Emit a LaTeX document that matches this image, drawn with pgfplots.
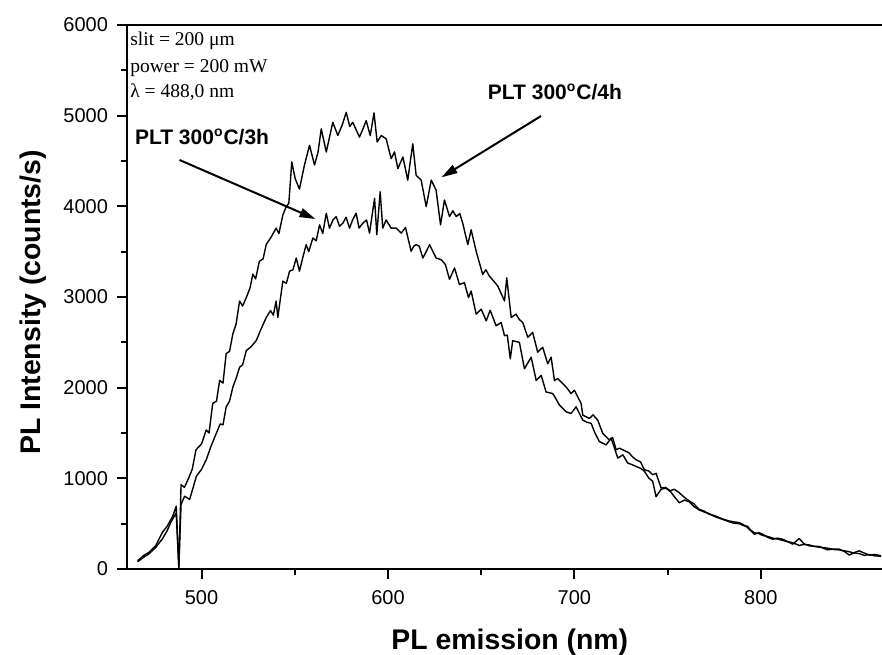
\documentclass[border=0pt]{standalone}
\usepackage{fontspec}
\setmainfont{Liberation Sans}
\newfontfamily\timesfont{Liberation Serif}
\usepackage{pgfplots}
\pgfplotsset{compat=1.18}
\usetikzlibrary{arrows.meta,calc}
\newcommand{\dg}{\textsuperscript{\fontsize{7}{7}\selectfont o}}

\begin{document}
\begin{tikzpicture}
\begin{axis}[
  scale only axis, width=377.5pt, height=272pt,
  xmin=460, xmax=865, ymin=0, ymax=6000,
  axis x line*=box, axis y line*=left,
  xtick pos=left, ytick pos=left,
  xtick={500,600,700,800}, minor x tick num=1,
  ytick={0,1000,2000,3000,4000,5000,6000}, minor y tick num=1,
  tick align=outside,
  major tick length=5pt, minor tick length=3pt,
  every tick/.style={black, line width=1pt},
  axis line style={black, line width=1pt},
  /pgf/number format/assume math mode=true,
  /pgf/number format/1000 sep={},
  ticklabel style={font=\fontsize{10}{12}\selectfont},
  xticklabel style={yshift=-2pt},
  yticklabel style={xshift=-1pt},
  xlabel={PL emission (nm)},
  ylabel={PL Intensity (counts/s)},
  xlabel style={font=\fontsize{14.2}{17}\selectfont\bfseries, at={(axis description cs:0.507,0)}, anchor=base, yshift=-40.5pt},
  ylabel style={font=\fontsize{14.2}{17}\selectfont\bfseries, at={(axis description cs:-0.1245,0.49)}, anchor=center},
]
\coordinate (SW) at (rel axis cs:0,0);
\coordinate (NE) at (rel axis cs:1,1);

% PLT 300C/4h
\addplot[black, line width=0.7pt, line join=round, mark=none] coordinates {
(465.7,91) (469,150) (472,186) (475.5,260) (479,405) (481.5,470) (484.5,580) (486.4,693) (487.8,20) (489,930)
(490.8,900) (492.7,985) (495,1100) (497,1314) (500,1380) (502.5,1533) (504,1500) (506,1828) (508,1850) (509.7,2080)
(511.5,2050) (513.2,2376) (515,2400) (516.8,2595) (518.5,2700) (520.4,2956) (522,2900) (524,2993) (526,3100) (527.5,3252)
(529,3200) (531,3394) (533,3420) (534.7,3580) (537,3650) (540,3759) (541.5,3700) (543.6,3905) (545.4,3996) (546.8,4033)
(548.4,4490) (550.2,4307) (552.5,4190) (555.2,4456) (557.9,4672) (560.6,4456) (562.5,4600) (564.2,4854) (566.9,4599) (568.5,4750)
(570.4,4927) (573.1,4781) (575.5,4900) (577.6,5037) (579.5,4880) (581.1,4927) (584.7,4763) (586.5,4850) (588.3,4945) (590.5,4780)
(592.5,5030) (594.2,4710) (596.4,4781) (599,4745) (601.7,4526) (603.5,4600) (605.3,4416) (608,4544) (610.6,4289) (613.3,4690)
(615.1,4343) (617.8,4289) (620.5,3996) (623.2,4289) (625.8,4179) (628.2,3796) (630.3,4070) (633,3887) (634.8,3950) (636.6,3887)
(638.5,3920) (640.1,3814) (642.8,3577) (644.6,3741) (647.3,3504) (650.8,3249) (652.5,3300) (654.4,3230) (656.5,3180) (658.9,3121)
(662.5,2956) (663.7,3212) (666.1,2774) (668.7,2811) (670.5,2750) (672.3,2719) (675,2555) (677.6,2610) (680.3,2391) (683,2445)
(685.7,2263) (687.5,2336) (689.3,2080) (691,2100) (692.9,2062) (695.6,2007) (698.2,1935) (700,1971) (703.6,1825) (704.5,1697)
(708,1661) (710,1700) (712.5,1642) (715.2,1496) (718.8,1423) (720.5,1450) (722.4,1314) (724.1,1332) (726,1314) (729.5,1278)
(731,1240) (733.1,1204) (735.5,1180) (737.5,1095) (740,1080) (742,1040) (743.8,1055) (746.5,894) (749,900) (751,858)
(753.5,880) (756.3,840) (759,790) (761.7,748) (764,720) (767,657) (769.5,640) (772.4,602) (775,590) (777.7,566)
(780.5,545) (783.1,529) (785.5,520) (788.5,511) (790.5,490) (792.9,456) (796.5,383) (799,400) (801,383) (803.5,350)
(806.4,328) (809,340) (811.7,328) (814.5,300) (817.1,274) (820.6,336) (823,280) (826,255) (828.5,250) (831.4,248)
(833.5,230) (835.8,211) (839,220) (842.1,219) (845,190) (847.5,153) (850,180) (852.8,200) (855.5,175) (858.2,153)
(861,160) (864.5,146)
};

% PLT 300C/3h
\addplot[black, line width=0.7pt, line join=round, mark=none] coordinates {
(465.7,80) (469,130) (472,170) (475.5,240) (479,333) (481.5,420) (483.5,515) (486.4,620) (487.8,15) (489,712)
(490.9,803) (493.6,767) (495.5,900) (497.2,1022) (500,1100) (502.5,1204) (505,1350) (507.9,1496) (510,1600) (511.5,1590)
(513.2,1788) (515,1850) (516.8,2007) (518.5,2100) (520.4,2226) (522,2250) (524,2409) (526.5,2450) (529.3,2518) (532,2650)
(534.7,2774) (537,2850) (538.5,2800) (540,2956) (540.9,2774) (543.6,3175) (545.5,3150) (547.2,3285) (549,3300) (550.8,3430)
(552.5,3285) (554.5,3450) (556.1,3577) (557.5,3500) (559.7,3650) (561.5,3620) (563.3,3796) (565,3700) (566.9,3923) (568.6,3759)
(570.5,3850) (572.2,3887) (574,3780) (575.8,3814) (577.5,3880) (579.4,3759) (581,3850) (582.9,3923) (584.5,3760) (586.5,3814)
(588.5,3850) (590.1,3705) (592.8,4088) (594,3687) (595.8,4161) (597.2,3759) (599,3850) (601.7,3759) (604.4,3759) (607.1,3705)
(609.4,3766) (612.4,3504) (613.8,3560) (615.1,3577) (616.8,3560) (618.7,3430) (620.5,3500) (622.3,3577) (625.8,3430) (628.5,3412)
(630.8,3358) (633,3194) (635.7,3321) (638.3,3139) (641,3157) (643.2,2993) (644.6,3066) (647.3,2811) (650,2865) (652.7,2737)
(654.8,2854) (658,2683) (660.7,2719) (662.5,2573) (664,2580) (665.6,2318) (666.9,2518) (670.5,2500) (673.2,2208) (676.8,2336)
(679.5,2080) (682.2,2135) (684.8,1952) (688.4,1935) (690,1880) (692,1807) (695.6,1733) (698.2,1715) (700.9,1788) (704.5,1642)
(706.5,1620) (709,1606) (711,1500) (713.4,1405) (717,1369) (719.7,1442) (723.3,1223) (726,1259) (728.6,1168) (731,1150)
(733.1,1131) (735.5,1110) (737.5,1080) (740,1000) (742,967) (743.8,797) (746.5,880) (749,890) (751,870) (753.5,800)
(756.3,730) (759,760) (761.7,740) (764,690) (767,650) (769.5,630) (772.4,610) (775,580) (777.7,560) (780.5,540)
(783.1,520) (785.5,505) (788.5,500) (790.5,480) (792.9,470) (794.5,430) (796.5,400) (799,390) (801,370) (803.5,360)
(806.4,340) (809,330) (811.7,315) (814.5,300) (817.1,290) (820.6,260) (823,270) (826,265) (828.5,250) (831.4,240)
(833.5,235) (835.8,230) (839,215) (842.1,210) (845,200) (847.5,190) (850,175) (852.8,170) (855.5,150) (858.2,160)
(861,145) (864.5,140)
};

\node[anchor=base west, font=\timesfont\fontsize{9.75}{11}\selectfont, inner sep=0pt] at (axis cs:461.6,5779) {slit = 200 μm};
\node[anchor=base west, font=\timesfont\fontsize{9.75}{11}\selectfont, inner sep=0pt] at (axis cs:461.6,5481) {power = 200 mW};
\node[anchor=base west, font=\timesfont\fontsize{9.75}{11}\selectfont, inner sep=0pt] at (axis cs:461.6,5195) {λ = 488,0 nm};

\node[anchor=base west, font=\bfseries\fontsize{10.5}{12}\selectfont, inner sep=0pt] at (axis cs:464.1,4684) {PLT 300\dg C/3h};
\node[anchor=base west, font=\bfseries\fontsize{10.5}{12}\selectfont, inner sep=0pt] at (axis cs:653.4,5180) {PLT 300\dg C/4h};

\draw[line width=1pt, -{Triangle[length=8pt,width=4.5pt]}] (axis cs:488.2,4511) -- (axis cs:561.1,3860);
\draw[line width=1pt, -{Triangle[length=8pt,width=4.5pt]}] (axis cs:682.1,4996) -- (axis cs:628.7,4320);
\end{axis}
\pgfresetboundingbox
\path ($(SW)+(-63.5pt,-43pt)$) rectangle ($(NE)+(0pt,12.5pt)$);
\end{tikzpicture}
\end{document}
